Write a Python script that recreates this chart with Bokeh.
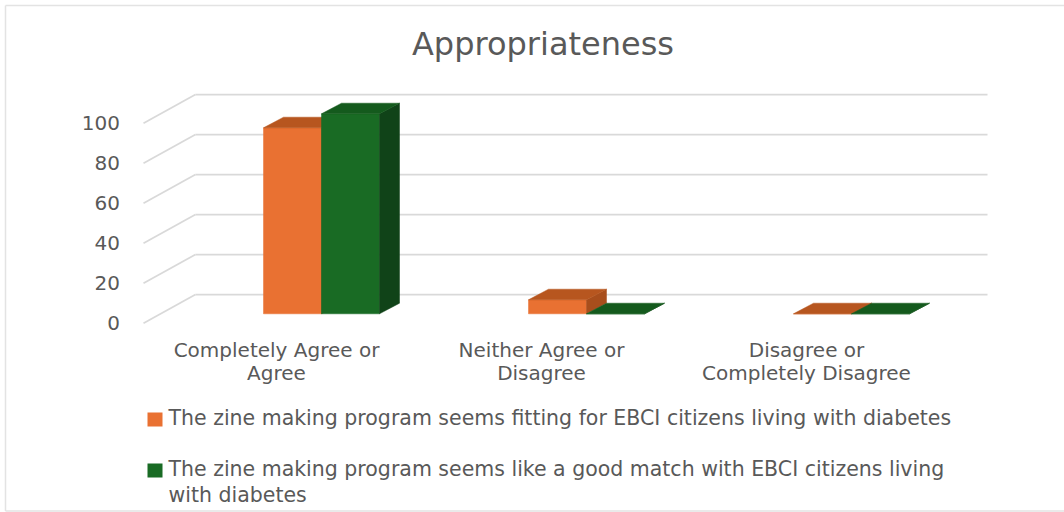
from bokeh.plotting import figure
from bokeh.models import Range1d
from bokeh.core.properties import value
from bokeh.embed import file_html
from bokeh.resources import INLINE

# ---------------- data ----------------
title_text = "Appropriateness"
categories = ["Completely Agree or\nAgree",
              "Neither Agree or\nDisagree",
              "Disagree or\nCompletely Disagree"]
series_names = ["The zine making program seems fitting for EBCI citizens living with diabetes",
                "The zine making program seems like a good match with EBCI citizens living\nwith diabetes"]
fitting = [93, 7, 0]
good_match = [100, 0, 0]
y_ticks = [0, 20, 40, 60, 80, 100]

# ---------------- styles ----------------
FRONT = ["#E97132", "#196B24"]
TOP = ["#B7561F", "#145A1D"]
SIDE = ["#A84E1C", "#104318"]
TEXT_COLOR = "#595959"
GRID_COLOR = "#D9D9D9"
FONT = value("DejaVu Sans")

W, H = 1064, 512
X0_PX = 321.0    # pixel x of category 0 centre (bar plane)
CAT_PX = 265.0   # px per category
Y0_PX = 313.3    # pixel y of value 0 (bar plane)
UNIT_PX = 2.0    # px per value unit


def X(px):
    return (px - X0_PX) / CAT_PX


def Y(py):
    return (Y0_PX - py) / UNIT_PX


p = figure(width=W, height=H, x_range=Range1d(X(0), X(W)), y_range=Range1d(Y(H), Y(0)),
           x_axis_type=None, y_axis_type=None, output_backend="svg", toolbar_location=None,
           min_border=0)
p.grid.visible = False
p.outline_line_color = None
p.background_fill_color = "white"
p.border_fill_color = "white"

# chart-area border (top, left, bottom)
p.segment(x0=[X(5), X(5), X(5)], y0=[Y(5), Y(5), Y(510.5)],
          x1=[X(W), X(5), X(W)], y1=[Y(5), Y(510.5), Y(510.5)],
          line_color="#E3E3E3", line_width=1.5)

# ---------------- 3D wall / floor gridlines ----------------
front_dy = Y(322.7)   # front plane offset in value units
back_dy = Y(294.0)    # back wall offset in value units
front_x, back_x, right_x = X(143), X(195), X(987)
p.segment(x0=[front_x] * len(y_ticks), y0=[v + front_dy for v in y_ticks],
          x1=[back_x] * len(y_ticks), y1=[v + back_dy for v in y_ticks],
          line_color=GRID_COLOR, line_width=1.75)
p.segment(x0=[back_x] * len(y_ticks), y0=[v + back_dy for v in y_ticks],
          x1=[right_x] * len(y_ticks), y1=[v + back_dy for v in y_ticks],
          line_color=GRID_COLOR, line_width=1.75)

# tick labels
p.text(x=[X(119.5)] * len(y_ticks), y=[v + front_dy for v in y_ticks], text=[str(v) for v in y_ticks],
       text_align="right", text_baseline="middle", text_font=FONT, text_font_size="20px",
       text_color=TEXT_COLOR)

# ---------------- 3D bars ----------------
bw = 58.0 / CAT_PX
ddx = 20.0 / CAT_PX
ddy = 10.6 / UNIT_PX
for s, vals in enumerate([fitting, good_match]):
    L = [i - bw + s * bw for i in range(len(categories))]
    R = [l + bw for l in L]
    p.quad(left=L, right=R, bottom=[0] * len(vals), top=vals,
           fill_color=FRONT[s], line_color=FRONT[s], line_width=0.5)
    p.patches(xs=[[r, r + ddx, r + ddx, r] for r in R],
              ys=[[0, ddy, v + ddy, v] for v in vals],
              fill_color=SIDE[s], line_color=SIDE[s], line_width=0.5)
    p.patches(xs=[[l, r, r + ddx, l + ddx] for l, r in zip(L, R)],
              ys=[[v, v, v + ddy, v + ddy] for v in vals],
              fill_color=TOP[s], line_color=TOP[s], line_width=0.5)

# ---------------- category labels ----------------
lab_dx = -45.0 / CAT_PX
line_mid = [Y(349.0), Y(372.5)]
cx, cy, ct = [], [], []
for i, c in enumerate(categories):
    for k, line in enumerate(c.split("\n")):
        cx.append(i + lab_dx)
        cy.append(line_mid[k])
        ct.append(line)
p.text(x=cx, y=cy, text=ct, text_align="center", text_baseline="middle",
       text_font=FONT, text_font_size="20px", text_color=TEXT_COLOR)

# ---------------- title ----------------
p.text(x=[X(542.5)], y=[Y(43)], text=[title_text], text_align="center", text_baseline="middle",
       text_font=FONT, text_font_size="32px", text_color=TEXT_COLOR)

# ---------------- legend ----------------
sq_top = [412.0, 463.0]
sq_size = 14.0
text_mid = [[417.0], [468.0, 494.0]]
for s, name in enumerate(series_names):
    p.quad(left=[X(147)], right=[X(147 + sq_size + 1)], top=[Y(sq_top[s])], bottom=[Y(sq_top[s] + sq_size)],
           fill_color=FRONT[s], line_color=None)
    lines = name.split("\n")
    p.text(x=[X(168)] * len(lines), y=[Y(b) for b in text_mid[s]], text=lines,
           text_align="left", text_baseline="middle", text_font=FONT, text_font_size="20.5px",
           text_color=TEXT_COLOR)

open("out.html", "w").write(file_html(p, INLINE))
